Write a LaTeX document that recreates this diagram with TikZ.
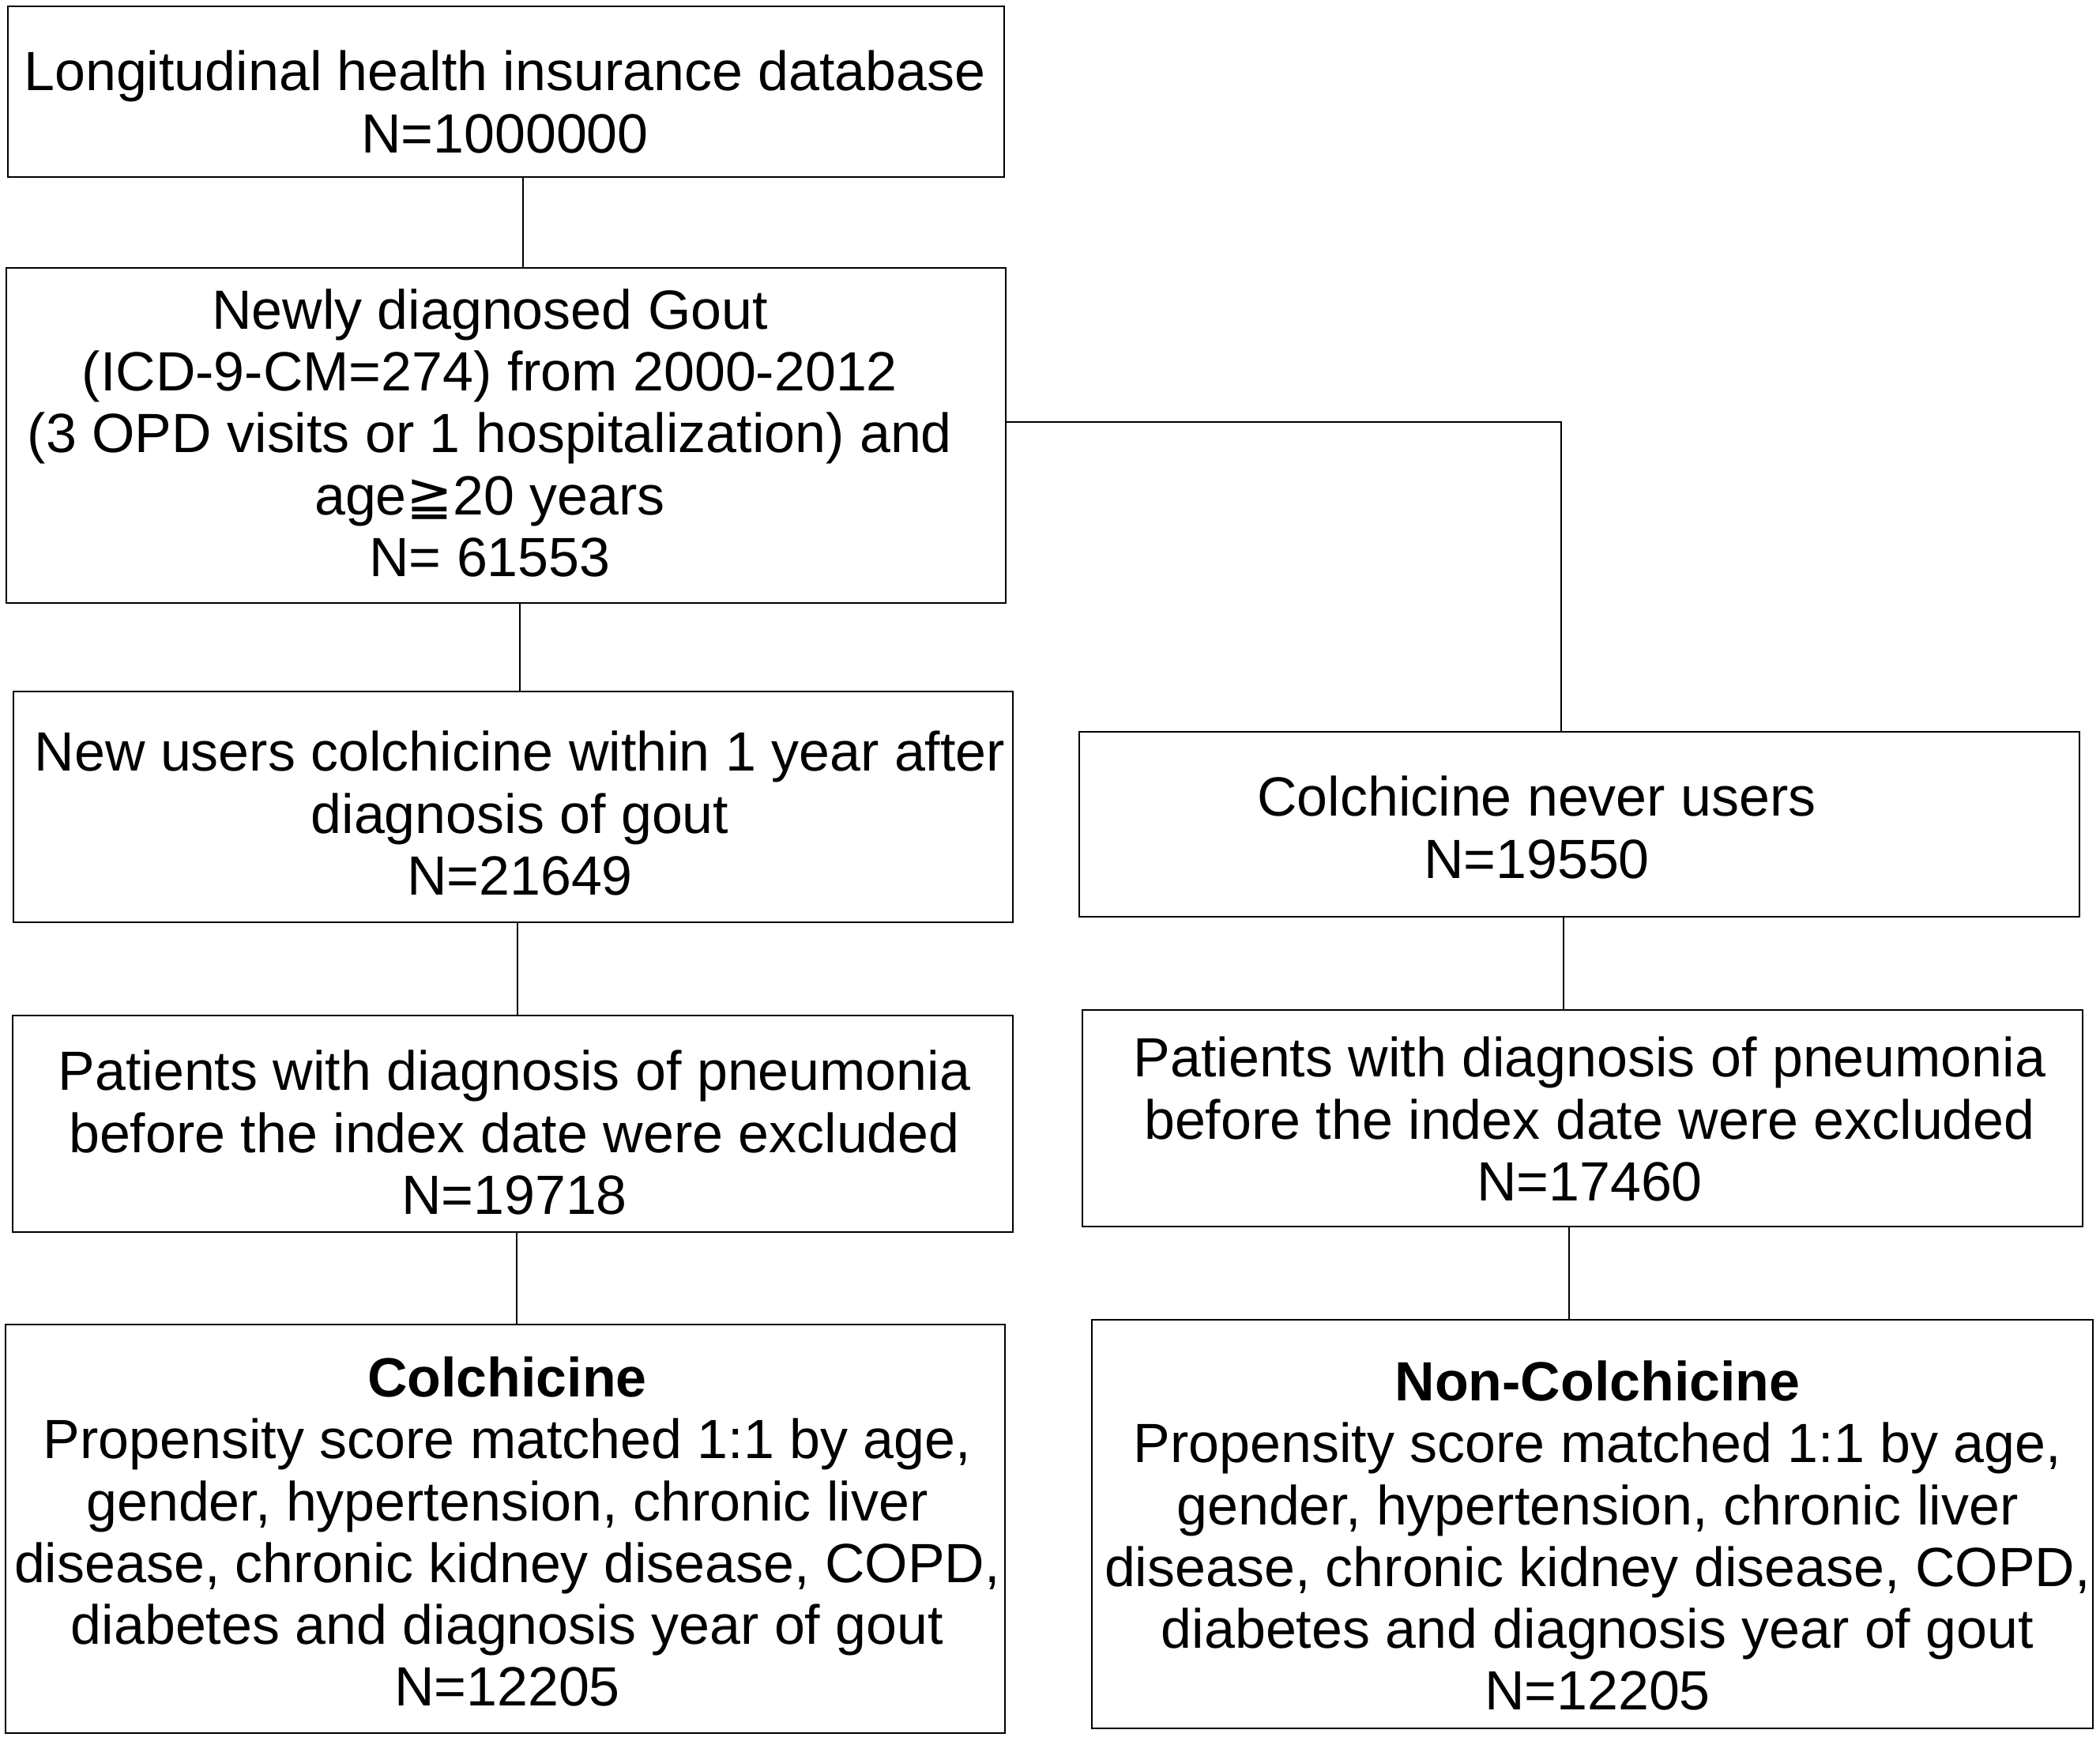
\documentclass[tikz,border=0pt]{standalone}
\usepackage{fontspec}
\setmainfont{Liberation Sans}
\newfontfamily\symfont{DejaVu Sans}
\begin{document}
\begin{tikzpicture}[x=1cm,y=1cm,
  box/.style={draw=black, line width=0.7pt, rectangle, inner sep=0pt, fill=white},
  txt/.style={align=center, inner sep=0pt, font=\fontsize{19.9}{22.2}\selectfont},
  link/.style={draw=black, line width=0.7pt}]
\useasboundingbox (0,0) rectangle (26.58,-22.03);
\fill[white] (0,0) rectangle (26.58,-22.03);
% boxes
\node[box, minimum width=12.61cm, minimum height=2.16cm] (b1) at (6.405,-1.16) {};
\node[box, minimum width=12.65cm, minimum height=4.24cm] (b2) at (6.405,-5.51) {};
\node[box, minimum width=12.65cm, minimum height=2.92cm] (b3) at (6.495,-10.21) {};
\node[box, minimum width=12.66cm, minimum height=2.34cm] (b4) at (19.99,-10.43) {};
\node[box, minimum width=12.66cm, minimum height=2.74cm] (b5) at (6.49,-14.22) {};
\node[box, minimum width=12.66cm, minimum height=2.74cm] (b6) at (20.03,-14.15) {};
\node[box, minimum width=12.65cm, minimum height=5.17cm] (b7) at (6.395,-19.345) {};
\node[box, minimum width=12.67cm, minimum height=5.17cm] (b8) at (20.155,-19.285) {};
% texts
\node[txt] (t1) at (6.39,-1.29) {Longitudinal health insurance database\\N=1000000};
\node[txt] (t2) at (6.20,-5.48) {Newly diagnosed Gout\\(ICD-9-CM=274) from 2000-2012\\(3 OPD visits or 1 hospitalization) and\\age{\symfont ≧}20 years\\N= 61553};
\node[txt] (t3) at (6.58,-10.29) {New users colchicine within 1 year after\\diagnosis of gout\\N=21649};
\node[txt] (t4) at (19.45,-10.47) {Colchicine never users\\N=19550};
\node[txt] (t5) at (6.51,-14.33) {Patients with diagnosis of pneumonia\\before the index date were excluded\\N=19718};
\node[txt] (t6) at (20.12,-14.16) {Patients with diagnosis of pneumonia\\before the index date were excluded\\N=17460};
\node[txt] (t7) at (6.42,-19.38) {\textbf{Colchicine}\\Propensity score matched 1:1 by age,\\gender, hypertension, chronic liver\\disease, chronic kidney disease, COPD,\\diabetes and diagnosis year of gout\\N=12205};
\node[txt] (t8) at (20.22,-19.43) {\textbf{Non-Colchicine}\\Propensity score matched 1:1 by age,\\gender, hypertension, chronic liver\\disease, chronic kidney disease, COPD,\\diabetes and diagnosis year of gout\\N=12205};
% connectors
\coordinate (k) at (19.76,-5.34);
\draw[link] (b1.south -| 6.62,0) -- (b2.north -| 6.62,0);
\draw[link] (b2.south -| 6.58,0) -- (b3.north -| 6.58,0);
\draw[link] (b2.east |- k) -- (k) -- (b4.north -| k);
\draw[link] (b3.south -| 6.55,0) -- (b5.north -| 6.55,0);
\draw[link] (b5.south -| 6.54,0) -- (b7.north -| 6.54,0);
\draw[link] (b4.south -| 19.79,0) -- (b6.north -| 19.79,0);
\draw[link] (b6.south -| 19.86,0) -- (b8.north -| 19.86,0);
\end{tikzpicture}
\end{document}
